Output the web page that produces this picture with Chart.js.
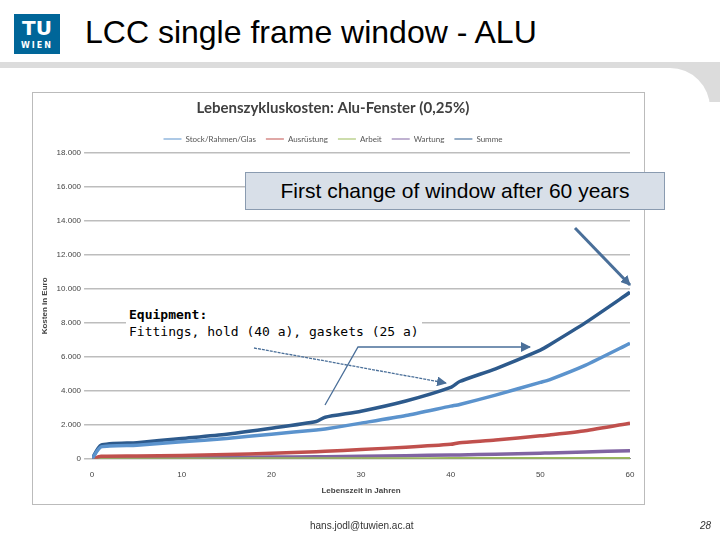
<!DOCTYPE html>
<html>
<head>
<meta charset="utf-8">
<script src="https://cdn.jsdelivr.net/npm/chart.js@4"></script>
<style>
  body { margin: 0; width: 720px; height: 540px; position: relative; overflow: hidden; background: #fff; font-family: "Liberation Sans", Arial, sans-serif; }
  #band { position: absolute; left: 0; top: 62px; width: 720px; height: 40px; background: #dcdcdc; }
  #panel { position: absolute; left: 0; top: 68px; width: 710px; height: 480px; background: #fff; border-top-right-radius: 40px; }
  #logo { position: absolute; left: 14px; top: 14px; width: 46px; height: 40px; background: #006699; color: #fff; font: bold 20px "DejaVu Sans"; text-align: center; line-height: 28px; }
  #logo small { display: block; font-size: 8px; line-height: 8px; letter-spacing: 2px; }
  #slideTitle { position: absolute; left: 85px; top: 14px; font-size: 32px; color: #000; }
  #frame { position: absolute; left: 32px; top: 92px; width: 611px; height: 411px; border: 1px solid #bbb; background: #fff; }
  #box1 { position: absolute; left: 245px; top: 172px; width: 418px; height: 36px; background: #d8dfe8; border: 1px solid #8a9bb0; font-size: 21px; line-height: 36px; text-align: center; }
  #box2 { position: absolute; left: 126px; top: 306px; background: #fff; font-family: "DejaVu Sans Mono", monospace; font-size: 13px; line-height: 17px; padding: 0 3px; }
  #arrows { position: absolute; left: 0; top: 0; }
  #mail { position: absolute; left: 310px; top: 520px; font-size: 10px; color: #333; }
  #page { position: absolute; left: 700px; top: 520px; font-size: 10px; color: #333; font-style: italic; }
</style>
</head>
<body>
<div id="band"></div>
<div id="panel"></div>
<div id="logo">TU<small>WIEN</small></div>
<div id="slideTitle">LCC single frame window - ALU</div>
<div id="frame"><canvas id="grafico" width="611" height="411"></canvas></div>
<div id="box1">First change of window after 60 years</div>
<div id="box2"><b>Equipment:</b><br>Fittings, hold (40 a), gaskets (25 a)</div>
<svg id="arrows" width="720" height="540">
  <defs>
    <marker id="head" markerUnits="userSpaceOnUse" markerWidth="10" markerHeight="10" refX="9" refY="5" orient="auto">
      <path d="M0,0 L10,5 L0,10 z" fill="#4a6f99"/>
    </marker>
  </defs>
  <line x1="575" y1="228" x2="630" y2="285" stroke="#4a6f99" stroke-width="3" marker-end="url(#head)"/>
  <line x1="254" y1="348" x2="446" y2="383" stroke="#4a6f99" stroke-width="1.3" stroke-dasharray="3,1" marker-end="url(#head)"/>
  <polyline points="325,405 358,347 530,347" fill="none" stroke="#4a6f99" stroke-width="1.3" marker-end="url(#head)"/>
</svg>
<div id="mail">hans.jodl@tuwien.ac.at</div>
<div id="page">28</div>
<script>
// Jahre und Kosten (Euro)
const jahre      = [0, 1, 5, 10, 15, 20, 25, 26, 30, 35, 40, 41, 45, 50, 51, 55, 60];
const stock      = [0, 700, 800, 1000, 1200, 1450, 1700, 1750, 2100, 2550, 3100, 3200, 3750, 4500, 4650, 5500, 6800];
const ausruestung= [0, 150, 170, 200, 260, 320, 420, 440, 550, 680, 850, 950, 1100, 1350, 1400, 1650, 2100];
const arbeit     = [0, 20, 20, 25, 25, 30, 30, 30, 35, 35, 40, 40, 40, 45, 45, 45, 50];
const wartung    = [0, 50, 55, 70, 85, 100, 120, 125, 150, 185, 220, 230, 270, 330, 340, 400, 480];
const summe      = [0, 800, 950, 1200, 1450, 1800, 2200, 2450, 2800, 3400, 4200, 4550, 5300, 6400, 6700, 8000, 9800];
const yTicks     = ["0", "2.000", "4.000", "6.000", "8.000", "10.000", "12.000", "14.000", "16.000", "18.000"];

const serie = (label, werte, farbe, breite) => ({
  label, borderColor: farbe, backgroundColor: farbe, borderWidth: breite,
  data: jahre.map((j, i) => ({ x: j, y: werte[i] })), pointRadius: 0, tension: 0.2
});

new Chart(document.getElementById("grafico"), {
  type: "line",
  data: {
    datasets: [
      serie("Stock/Rahmen/Glas", stock, "#5b93cd", 3.5),
      serie("Ausrüstung", ausruestung, "#c0504d", 3.5),
      serie("Arbeit", arbeit, "#9bbb59", 2),
      serie("Wartung", wartung, "#8064a2", 3.5),
      serie("Summe", summe, "#2d5a8c", 3.5)
    ]
  },
  options: {
    responsive: false,
    animation: false,
    layout: { padding: { top: 6, right: 14, left: 3, bottom: 4 } },
    plugins: {
      title: { display: true, text: "Lebenszykluskosten: Alu-Fenster (0,25%)", color: "#404040",
               font: { family: "Lato", size: 15, weight: "bold" }, padding: { bottom: 8 } },
      legend: {
        labels: {
          boxWidth: 18, boxHeight: 1, font: { family: "Lato", size: 8 }, color: "#555",
          generateLabels: (chart) => Chart.defaults.plugins.legend.labels.generateLabels(chart)
            .map(l => ({ ...l, lineWidth: 0 }))
        }
      }
    },
    scales: {
      x: {
        type: "linear", min: 0, max: 60,
        ticks: { stepSize: 10, font: { size: 8 }, color: "#444" },
        grid: { display: false },
        border: { color: "#888" },
        title: { display: true, text: "Lebenszeit in Jahren", font: { size: 8, weight: "bold" }, color: "#444" }
      },
      y: {
        min: 0, max: 18000,
        ticks: { stepSize: 2000, font: { size: 8 }, color: "#444", callback: (v) => yTicks[v / 2000] },
        grid: { color: "#bdbdbd", lineWidth: 1.5 },
        border: { display: false },
        title: { display: true, text: "Kosten in Euro", font: { size: 8, weight: "bold" }, color: "#444" }
      }
    }
  }
});
</script>
</body>
</html>
